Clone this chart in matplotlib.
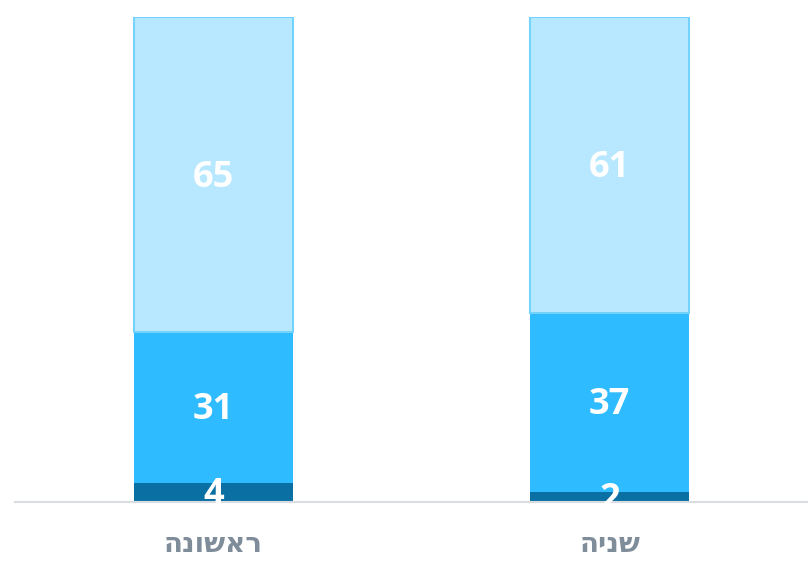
import matplotlib.pyplot as plt

categories = ["ראשונה", "שניה"]
bottom_vals = [4, 2]
middle_vals = [31, 37]
top_vals = [65, 61]

colors = ["#0A6FA3", "#2EBBFF", "#B8E8FF"]
edge_top = "#74D2FF"


def rtl(s):
    # matplotlib has no bidi support, so flip Hebrew text for display
    return s[::-1]


fig = plt.figure(figsize=(8.08, 5.70), dpi=100)
ax = fig.add_axes([15 / 808, 68 / 570, 793 / 808, 485 / 570])

x = list(range(len(categories)))
w = 0.4
ax.bar(x, bottom_vals, width=w, color=colors[0])
mid_bottom = bottom_vals
ax.bar(x, middle_vals, width=w, bottom=mid_bottom, color=colors[1])
top_bottom = [a + b for a, b in zip(bottom_vals, middle_vals)]
ax.bar(x, top_vals, width=w, bottom=top_bottom, color=colors[2],
       edgecolor=edge_top, linewidth=1.5)

for i in x:
    segs = [(0, bottom_vals[i]), (bottom_vals[i], middle_vals[i]),
            (top_bottom[i], top_vals[i])]
    for start, val in segs:
        ax.text(i, start + val / 2 - 0.6, str(val), ha="center", va="center",
                color="white", fontsize=26, fontweight="bold",
                family=["Open Sans", "DejaVu Sans"])

ax.set_xlim(-0.5, 1.5)
ax.set_ylim(0, 100)
ax.set_xticks(x)
ax.set_xticklabels([rtl(c) for c in categories], fontsize=20,
                   fontweight="bold", color="#7F8C99",
                   family=["DejaVu Sans"])
ax.tick_params(axis="x", length=0, pad=20)
ax.set_yticks([])
for side in ["top", "left", "right"]:
    ax.spines[side].set_visible(False)
ax.spines["bottom"].set_color("#D9DDE1")
ax.spines["bottom"].set_linewidth(1.5)

fig.savefig("out.png", dpi=100)
